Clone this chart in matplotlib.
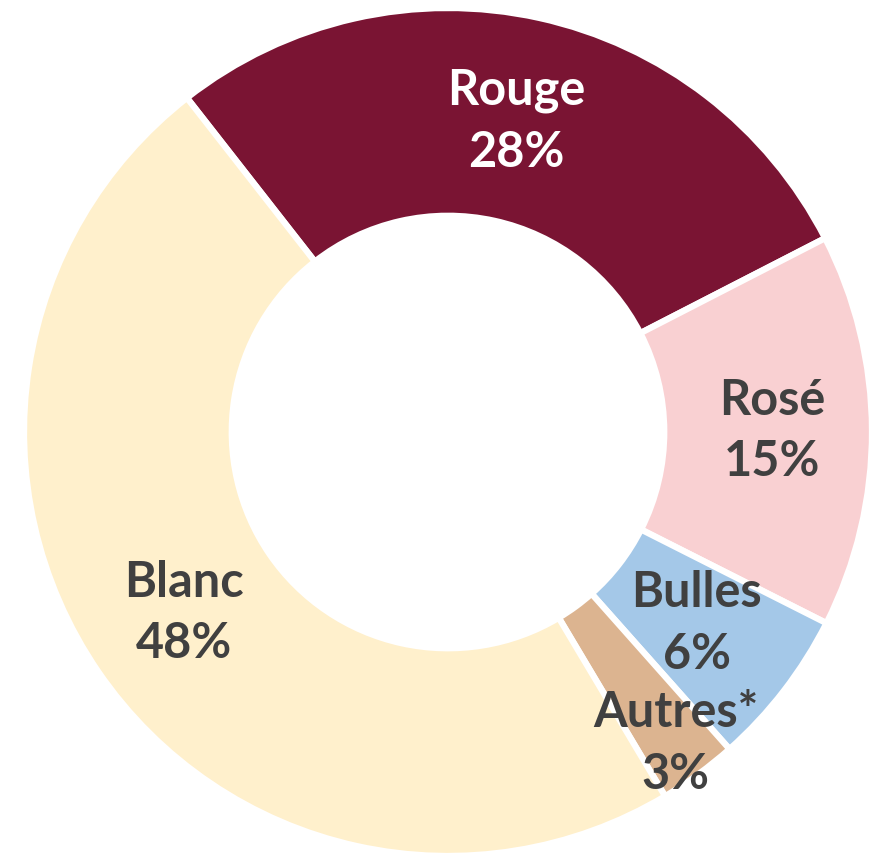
import matplotlib.pyplot as plt
import numpy as np

labels = ["Rouge", "Rosé", "Bulles", "Autres*", "Blanc"]
values = [28, 15, 6, 3, 48]
colors = ["#7A1433", "#F9D0D2", "#A4C8E8", "#DCB490", "#FFF0CC"]
text_colors = ["white", "#404040", "#404040", "#404040", "#404040"]
label_dist = [0.75, 0.765, 0.74, 0.91, 0.755]

fig = plt.figure(figsize=(8.69, 8.57), dpi=100)
ax = fig.add_axes([0, 0, 1, 1])

wedges, _ = ax.pie(values, colors=colors, startangle=128, counterclock=False,
                   radius=1.0, wedgeprops=dict(width=0.49, edgecolor="white", linewidth=4.5))

for w, lab, v, c, d in zip(wedges, labels, values, text_colors, label_dist):
    ang = np.deg2rad((w.theta1 + w.theta2) / 2)
    ax.text(d * np.cos(ang), d * np.sin(ang), f"{lab}\n{v}%", ha="center", va="center",
            color=c, fontsize=35, fontweight="bold", family="Lato", linespacing=1.45)

# centre of the ring sits at about (448, 432) px, radius 424 px
ax.set_xlim(-448 / 424, 421 / 424)
ax.set_ylim(-425 / 424, 432 / 424)
ax.set_aspect("auto")
ax.axis("off")

fig.savefig("out.png", dpi=100)
